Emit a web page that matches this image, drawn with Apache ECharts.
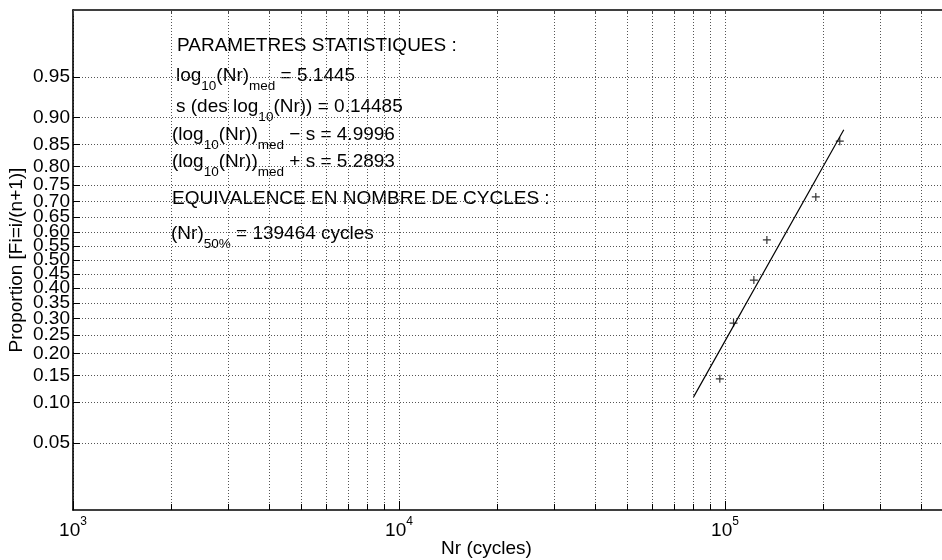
<!DOCTYPE html>
<html><head><meta charset="utf-8">
<script src="https://cdn.jsdelivr.net/npm/echarts@6/dist/echarts.min.js"></script>
<style>html,body{margin:0;padding:0;background:#fff}#c{width:942px;height:560px}</style>
</head><body><div id="c"></div>
<script>
// ---- data ----
const nrCycles = [96400, 106200, 122600, 134400, 189900, 224900];
const proportions = [0.1429, 0.2857, 0.4286, 0.5714, 0.7143, 0.8571];
const fitLineNr = [80100, 231400];
const fitLineP = [0.1095, 0.8788];
const yTickValues = [0.05,0.10,0.15,0.20,0.25,0.30,0.35,0.40,0.45,0.50,0.55,0.60,0.65,0.70,0.75,0.80,0.85,0.90,0.95];
const yTickLabels = ['0.05','0.10','0.15','0.20','0.25','0.30','0.35','0.40','0.45','0.50','0.55','0.60','0.65','0.70','0.75','0.80','0.85','0.90','0.95'];
const xMajorTicks = [1000, 10000, 100000];
const xTickExponents = ['3', '4', '5'];
const xMinorTicks = [2000,3000,4000,5000,6000,7000,8000,9000,20000,30000,40000,50000,60000,70000,80000,90000,200000,300000,400000];
const xRange = [1000, 463000];
const pRange = [0.01239, 0.98761];
const xTitle = 'Nr (cycles)';
const yTitle = 'Proportion [Fi=i/(n+1)]';
const statLines = [
  '{m|PARAMETRES STATISTIQUES :}',
  '{m|log}{s|10}{m|(Nr)}{s|med}{m| = 5.1445}',
  '{m|s (des log}{s|10}{m|(Nr)) = 0.14485}',
  '{m|(log}{s|10}{m|(Nr))}{s|med}{m| \u2212 s = 4.9996}',
  '{m|(log}{s|10}{m|(Nr))}{s|med}{m| + s = 5.2893}',
  '{m|EQUIVALENCE EN NOMBRE DE CYCLES :}',
  '{m|(Nr)}{s|50%}{m| = 139464 cycles}'
];
const statPos = [[177,46],[176,76],[176,107],[172,135],[172,162],[172,199],[171,234]];

// probit (inverse normal CDF, Acklam)
function norminv(p){
  const a=[-39.69683028665376,220.9460984245205,-275.9285104469687,138.3577518672690,-30.66479806614716,2.506628277459239];
  const b=[-54.47609879822406,161.5858368580409,-155.6989798598866,66.80131188771972,-13.28068155288572];
  const c=[-0.007784894002430293,-0.3223964580411365,-2.400758277161838,-2.549732539343734,4.374664141464968,2.938163982698783];
  const d=[0.007784695709041462,0.3224671290700398,2.445134137142996,3.754408661907416];
  const pl=0.02425;let q,r;
  if(p<pl){q=Math.sqrt(-2*Math.log(p));return (((((c[0]*q+c[1])*q+c[2])*q+c[3])*q+c[4])*q+c[5])/((((d[0]*q+d[1])*q+d[2])*q+d[3])*q+1);}
  if(p>1-pl){q=Math.sqrt(-2*Math.log(1-p));return -(((((c[0]*q+c[1])*q+c[2])*q+c[3])*q+c[4])*q+c[5])/((((d[0]*q+d[1])*q+d[2])*q+d[3])*q+1);}
  q=p-0.5;r=q*q;return (((((a[0]*r+a[1])*r+a[2])*r+a[3])*r+a[4])*r+a[5])*q/(((((b[0]*r+b[1])*r+b[2])*r+b[3])*r+b[4])*r+1);
}

const FONT = 'Liberation Sans, Arial, Helvetica, sans-serif';
const FS = 19;
const lg = Math.log10;
const zTicks = yTickValues.map(norminv);
const xMajLog = xMajorTicks.map(lg);
const xAllLog = xMajorTicks.concat(xMinorTicks).map(lg).sort((a,b)=>a-b);
const gridLine = {show:true, lineStyle:{color:'#555', width:1, type:[1,2]}};

const chart = echarts.init(document.getElementById('c'), null, {renderer:'canvas'});
const xBase = {type:'value', min:lg(xRange[0]), max:lg(xRange[1]), gridIndex:0};
chart.setOption({
  animation:false,
  backgroundColor:'#fff',
  grid:{left:73, top:10, right:0, bottom:50, containLabel:false, outerBoundsMode:'none'},
  xAxis:[
    Object.assign({}, xBase, {
      position:'bottom',
      axisLine:{show:true, onZero:false, lineStyle:{color:'#000', width:1.6}},
      axisTick:{show:true, inside:true, length:6, customValues:xAllLog, lineStyle:{color:'#000', width:1}},
      axisLabel:{show:true, customValues:xMajLog, margin:6, hideOverlap:false,
        formatter:function(v){const i=xMajLog.findIndex(t=>Math.abs(t-v)<1e-6);return '{b|10}{s|'+xTickExponents[i]+'}';},
        rich:{b:{fontSize:FS, fontFamily:FONT, color:'#000'}, s:{fontSize:12, fontFamily:FONT, color:'#000', padding:[0,0,18,0]}}},
      splitLine:gridLine,
      name:xTitle, nameLocation:'middle', nameGap:29, nameMoveOverlap:false,
      nameTextStyle:{fontSize:FS, fontFamily:FONT, color:'#000', padding:[0,42,0,0]}
    }),
    Object.assign({}, xBase, {
      position:'bottom',
      axisLine:{show:false, onZero:false},
      axisTick:{show:true, inside:true, length:9, customValues:xMajLog, lineStyle:{color:'#000', width:1}},
      axisLabel:{show:false}, splitLine:{show:false}
    }),
    Object.assign({}, xBase, {
      position:'top',
      axisLine:{show:true, onZero:false, lineStyle:{color:'#000', width:1.6}},
      axisTick:{show:true, inside:true, length:4, customValues:xAllLog, lineStyle:{color:'#444', width:1}},
      axisLabel:{show:false}, splitLine:{show:false}
    })
  ],
  yAxis:[{
    type:'value', min:norminv(pRange[0]), max:norminv(pRange[1]), position:'left',
    axisLine:{show:true, onZero:false, lineStyle:{color:'#000', width:1.6}},
    axisTick:{show:true, inside:true, length:7, customValues:zTicks, lineStyle:{color:'#000', width:1}},
    axisLabel:{show:true, customValues:zTicks, margin:3, hideOverlap:false, fontSize:FS, fontFamily:FONT, color:'#000',
      formatter:function(v){let bi=0,bd=1e9;zTicks.forEach((t,i)=>{const d=Math.abs(t-v);if(d<bd){bd=d;bi=i;}});return yTickLabels[bi];}},
    splitLine:gridLine,
    name:yTitle, nameLocation:'middle', nameGap:47, nameRotate:90, nameMoveOverlap:false,
    nameTextStyle:{fontSize:FS, fontFamily:FONT, color:'#000'}
  }],
  series:[
    {type:'line', xAxisIndex:0, yAxisIndex:0, showSymbol:false, symbol:'none',
     data:fitLineNr.map((n,i)=>[lg(n), norminv(fitLineP[i])]),
     lineStyle:{color:'#000', width:1.2}, silent:true},
    {type:'scatter', xAxisIndex:0, yAxisIndex:0,
     data:nrCycles.map((n,i)=>[lg(n), norminv(proportions[i])]),
     symbol:'path://M4,0L4,8M0,4L8,4', symbolSize:8,
     itemStyle:{color:'rgba(0,0,0,0)', borderColor:'#000', borderWidth:1.2}}
  ],
  graphic: statLines.map((t,i)=>({
    type:'text', x:statPos[i][0], y:statPos[i][1], silent:true,
    style:{text:t, verticalAlign:'middle', align:'left', fill:'#000',
      rich:{m:{fontSize:FS, fontFamily:FONT, fill:'#000', color:'#000'},
            s:{fontSize:13.5, fontFamily:FONT, fill:'#000', color:'#000', padding:[21,0,0,0]}}}
  }))
});
</script></body></html>
